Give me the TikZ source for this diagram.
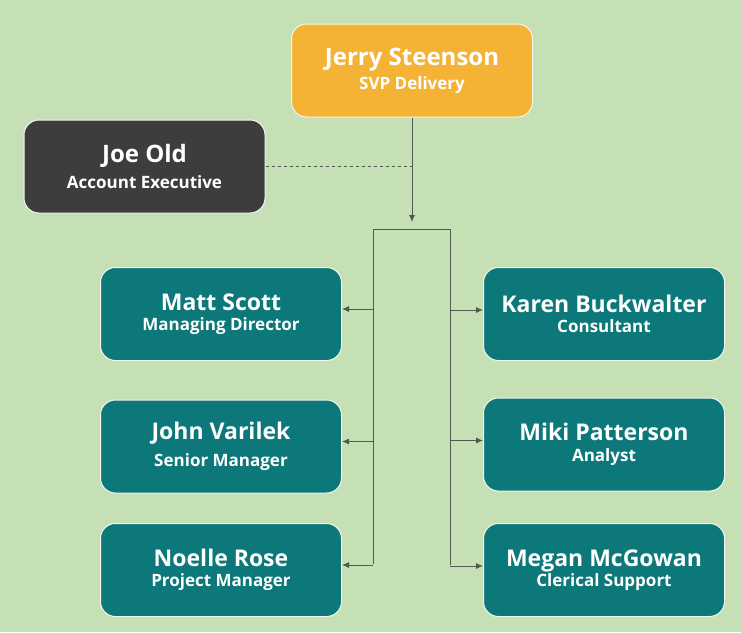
\documentclass[tikz,border=0pt]{standalone}
\usepackage{fontspec}
\setmainfont{Open Sans}
\usetikzlibrary{arrows.meta,positioning}
\definecolor{bgGreen}{HTML}{C6E0B5}
\definecolor{svpOrange}{HTML}{F5B335}
\definecolor{execGrey}{HTML}{3D3D3D}
\definecolor{staffTeal}{HTML}{0C787A}
\definecolor{lineGrey}{HTML}{4F5A4F}
% name, gap to the role line, role
\newcommand{\who}[4]{{\fontsize{#1}{20}\selectfont #3}\\[#2]#4}
\begin{document}
\begin{tikzpicture}[x=1pt,y=-1pt,
	person/.style={draw=white!75!bgGreen,line width=1pt,rounded corners=15pt,
		minimum width=241pt,minimum height=93pt,text=white,align=center,
		font=\bfseries\fontsize{17}{20}\selectfont},
	link/.style={draw=lineGrey,line width=0.9pt},
	tip/.style={-{Latex[length=7pt,width=6pt]}}]
	\fill[bgGreen] (0,0) rectangle (741,632);
	% top of the chart
	\node[person,fill=svpOrange] (jerry) at (412,70.5) {\who{24}{4pt}{Jerry Steenson}{SVP Delivery}};
	\node[person,fill=execGrey] (joe) at (144.5,166.5) {\who{24}{6pt}{Joe Old}{Account Executive}};
	% left column
	\node[person,fill=staffTeal] (matt) at (221,314) {\who{23}{0pt}{Matt Scott}{Managing Director}};
	\node[person,fill=staffTeal] (john) at (221,446.5) {\who{23}{7pt}{John Varilek}{Senior Manager}};
	\node[person,fill=staffTeal] (noelle) at (221,570) {\who{23}{0pt}{Noelle Rose}{Project Manager}};
	% right column
	\node[person,fill=staffTeal] (karen) at (604,314) {\who{23}{0pt}{Karen Buckwalter}{Consultant}};
	\node[person,fill=staffTeal] (miki) at (604,444.5) {\who{23}{1pt}{Miki Patterson}{Analyst}};
	\node[person,fill=staffTeal] (megan) at (604,570) {\who{23}{0pt}{Megan McGowan}{Clerical Support}};
	% connectors
	\coordinate (hub) at (412,222);
	\coordinate (barL) at (373,229);
	\coordinate (barR) at (450,229);
	\draw[link,tip] (jerry.south) -- (hub);
	\draw[link,dashed] (joe.east) -- (joe.east -| hub);
	\draw[link] ([yshift=6pt]barL |- noelle.east) -- (barL) -- (barR) -- ([yshift=5pt]barR |- megan.east);
	\foreach \n in {matt,john,noelle}
		\draw[link,tip] ([yshift=5pt]barL |- \n.east) -- ([yshift=5pt]\n.east);
	\foreach \n in {karen,miki,megan}
		\draw[link,tip] ([yshift=4pt]barR |- \n.west) -- ([yshift=4pt]\n.west);
\end{tikzpicture}
\end{document}
